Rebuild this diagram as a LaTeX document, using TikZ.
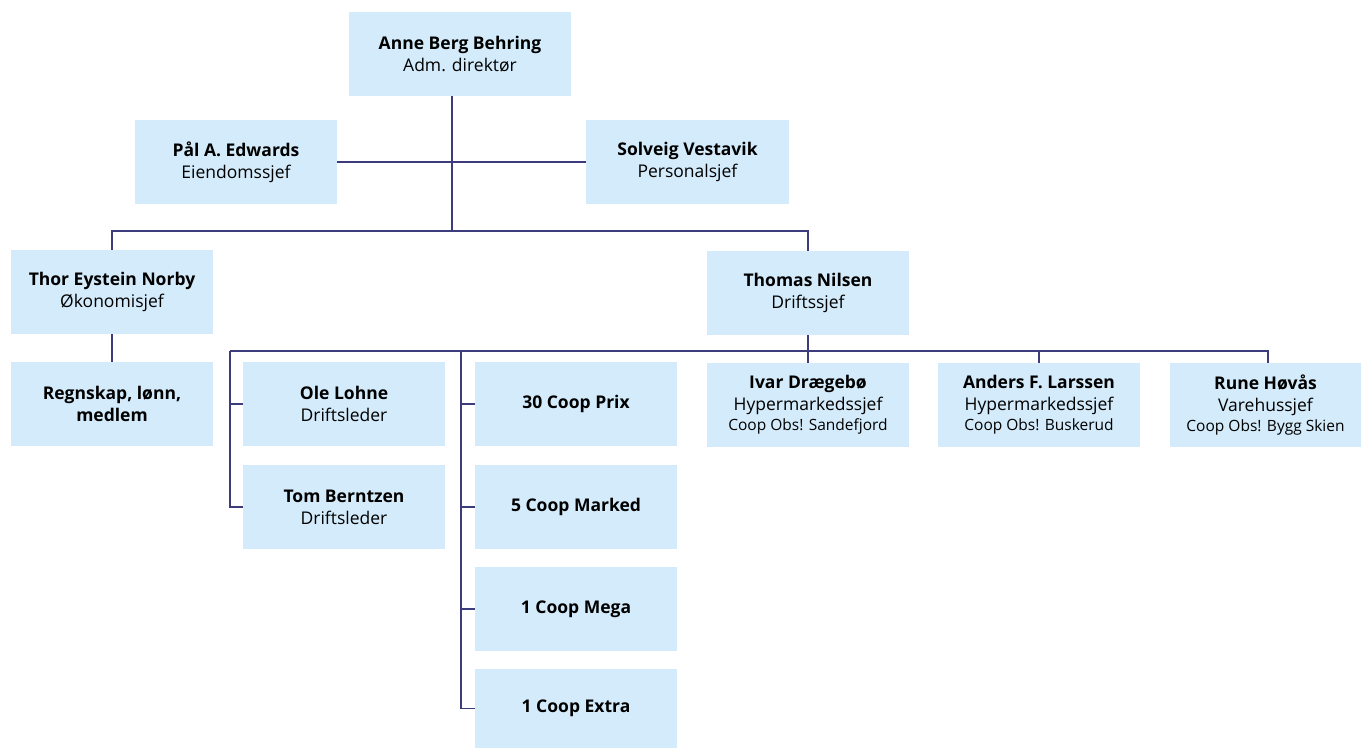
\documentclass[tikz,border=0pt]{standalone}
\usepackage{fontspec}
\setmainfont{Open Sans}
\definecolor{boxfill}{HTML}{D3EBFA}
\definecolor{linecol}{HTML}{3C3C7C}
\begin{document}
\begin{tikzpicture}[x=1pt,y=-1pt,
  box/.style={fill=boxfill,draw=none,minimum width=202pt,minimum height=84pt,inner sep=0pt,align=center,
    font=\fontsize{17.5}{22}\selectfont},
  conn/.style={draw=linecol,line width=1.3pt}]
\useasboundingbox (0,0) rectangle (1362,749);
\newcommand{\nm}[1]{\textbf{#1}}
\newcommand{\sml}[1]{{\fontsize{15.5}{20}\selectfont #1}}
\node[box,minimum width=222pt] (anne) at (460,54) {\nm{Anne Berg Behring}\\Adm. direktør};
\node[box] (pal) at (236,162) {\nm{Pål A. Edwards}\\Eiendomssjef};
\node[box,minimum width=203pt] (sol) at (687.5,162) {\nm{Solveig Vestavik}\\Personalsjef};
\node[box] (thor) at (112,292) {\nm{Thor Eystein Norby}\\Økonomisjef};
\node[box] (thomas) at (808,293) {\nm{Thomas Nilsen}\\Driftssjef};
\node[box] (regn) at (112,404) {\nm{Regnskap, lønn,}\\\nm{medlem}};
\node[box] (ole) at (344,404) {\nm{Ole Lohne}\\Driftsleder};
\node[box] (tom) at (344,507) {\nm{Tom Berntzen}\\Driftsleder};
\node[box] (prix) at (576,404) {\nm{30 Coop Prix}};
\node[box] (marked) at (576,507) {\nm{5 Coop Marked}};
\node[box] (mega) at (576,609) {\nm{1 Coop Mega}};
\node[box,minimum height=79pt] (extra) at (576,708.5) {\nm{1 Coop Extra}};
\node[box] (ivar) at (808,405) {\nm{Ivar Drægebø}\\Hypermarkedssjef\\[-2pt]\sml{Coop Obs! Sandefjord}};
\node[box] (anders) at (1039,405) {\nm{Anders F. Larssen}\\Hypermarkedssjef\\[-2pt]\sml{Coop Obs! Buskerud}};
\node[box,minimum width=191pt] (rune) at (1265.5,405) {\nm{Rune Høvås}\\Varehussjef\\[-2pt]\sml{Coop Obs! Bygg Skien}};
% junctions
\coordinate (j1) at (452,231);
\coordinate (bl) at (112,231);
\coordinate (br) at (808,231);
\coordinate (b2l) at (230,351);
\coordinate (b2m) at (461,351);
\coordinate (b2r) at (1268,351);
\coordinate (b2a) at (1039,351);
\draw[conn] (anne.south -| j1) -- (j1);
\draw[conn] (pal.east) -- (sol.west);
\draw[conn] (thor.north) -- (bl) -- (br) -- (thomas.north);
\draw[conn] (thor.south) -- (regn.north);
\draw[conn] (thomas.south) -- (ivar.north);
\draw[conn] (b2l) -- (b2r) -- (rune.north -| b2r);
\draw[conn] (b2a) -- (anders.north);
\draw[conn] (b2l) -- (b2l |- tom.west) -- (tom.west);
\draw[conn] (b2l |- ole.west) -- (ole.west);
\draw[conn] (b2m) -- (b2m |- extra.west) -- (extra.west);
\draw[conn] (b2m |- prix.west) -- (prix.west);
\draw[conn] (b2m |- marked.west) -- (marked.west);
\draw[conn] (b2m |- mega.west) -- (mega.west);
\end{tikzpicture}
\end{document}
